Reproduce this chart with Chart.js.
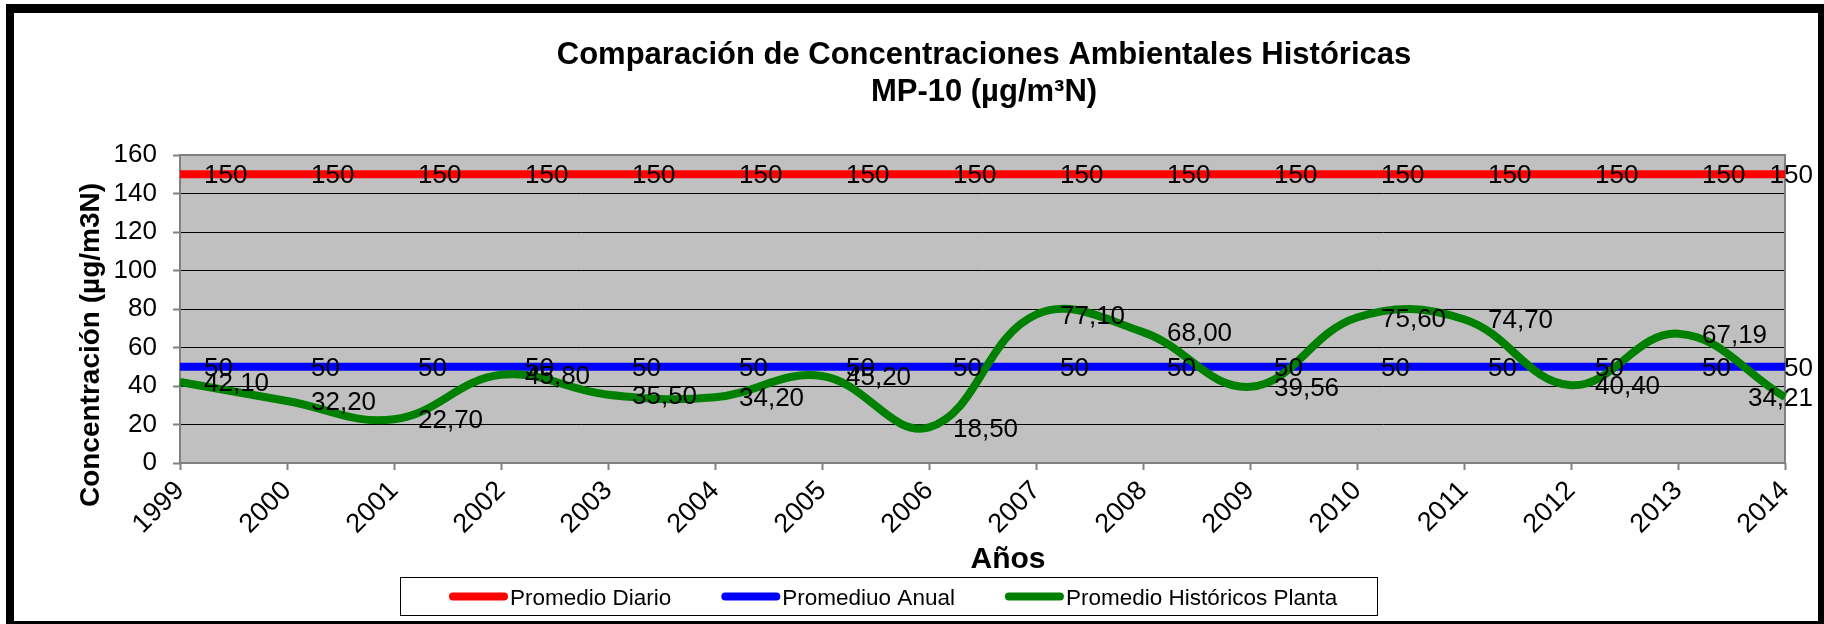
<!DOCTYPE html>
<html>
<head>
<meta charset="utf-8">
<script src="https://cdn.jsdelivr.net/npm/chart.js@4.4.1/dist/chart.umd.min.js"></script>
<style>
html,body{margin:0;padding:0;background:#fff;overflow:hidden;}
canvas{display:block;}
</style>
</head>
<body>
<canvas id="c" width="1824" height="624"></canvas>
<script>
// ---- data ----
const years = ['1999','2000','2001','2002','2003','2004','2005','2006','2007','2008','2009','2010','2011','2012','2013','2014'];
const promedioDiario = [150,150,150,150,150,150,150,150,150,150,150,150,150,150,150,150];
const promedioAnual = [50,50,50,50,50,50,50,50,50,50,50,50,50,50,50,50];
const historicosPlanta = [42.10,32.20,22.70,45.80,35.50,34.20,45.20,18.50,77.10,68.00,39.56,75.60,74.70,40.40,67.19,34.21];
const yTicks = [0,20,40,60,80,100,120,140,160];
const seriesNames = ['Promedio Diario','Promediuo Anual','Promedio Históricos Planta'];
const seriesColors = ['#FF0000','#0000FF','#008000'];
const titleLines = ['Comparación de Concentraciones Ambientales Históricas','MP-10 (µg/m³N)'];
const xTitle = 'Años';
const yTitle = 'Concentración (µg/m3N)';

const FONT = "'Liberation Sans', Arial, sans-serif";
Chart.defaults.font.family = FONT;
Chart.defaults.color = '#000';

const fmtInt = v => String(v);
const fmtDec = v => v.toFixed(2).replace('.', ',');

const framePlugin = {
  id: 'frame',
  beforeDraw(chart) {
    const ctx = chart.ctx, a = chart.chartArea;
    ctx.save();
    ctx.fillStyle = '#fff';
    ctx.fillRect(0, 0, chart.width, chart.height);
    ctx.fillStyle = '#000';
    ctx.fillRect(6, 4, 1818, 9);
    ctx.fillRect(6, 4, 8, 620);
    ctx.fillRect(1818, 4, 6, 620);
    ctx.fillRect(6, 621, 1818, 3);
    ctx.fillStyle = '#C0C0C0';
    ctx.fillRect(a.left, a.top, a.right - a.left, a.bottom - a.top);
    ctx.restore();
  },
  beforeDatasetsDraw(chart) {
    const ctx = chart.ctx, a = chart.chartArea;
    ctx.save();
    ctx.strokeStyle = '#808080';
    ctx.lineWidth = 2;
    ctx.strokeRect(a.left, a.top, a.right - a.left, a.bottom - a.top);
    ctx.restore();
  }
};

const labelsPlugin = {
  id: 'dlabels',
  afterDatasetsDraw(chart) {
    const ctx = chart.ctx;
    ctx.save();
    ctx.font = '26px ' + FONT;
    ctx.fillStyle = '#000';
    ctx.textAlign = 'left';
    ctx.textBaseline = 'middle';
    chart.data.datasets.forEach((ds, i) => {
      const meta = chart.getDatasetMeta(i);
      meta.data.forEach((pt, j) => {
        const t = ds.fmt(ds.data[j]);
        const w = ctx.measureText(t).width;
        let x = pt.x + 24;
        if (x + w > 1813) x = 1813 - w;
        ctx.fillText(t, x, pt.y + 2);
      });
    });
    ctx.restore();
  }
};

const textPlugin = {
  id: 'texts',
  afterDraw(chart) {
    const ctx = chart.ctx;
    ctx.save();
    ctx.fillStyle = '#000';
    // title
    ctx.font = 'bold 31px ' + FONT;
    ctx.textAlign = 'center';
    ctx.textBaseline = 'alphabetic';
    ctx.fillText(titleLines[0], 984, 64);
    ctx.fillText(titleLines[1], 984, 101);
    // x title
    ctx.font = 'bold 30px ' + FONT;
    ctx.fillText(xTitle, 1008, 568);
    // y title
    ctx.save();
    ctx.font = 'bold 28px ' + FONT;
    ctx.translate(99, 345);
    ctx.rotate(-Math.PI / 2);
    ctx.fillText(yTitle, 0, 0);
    ctx.restore();
    // legend
    ctx.strokeStyle = '#000';
    ctx.lineWidth = 1;
    ctx.strokeRect(400.5, 577.5, 977, 38);
    ctx.font = '22.5px ' + FONT;
    ctx.textAlign = 'left';
    ctx.textBaseline = 'alphabetic';
    let x = 449;
    chart.data.datasets.forEach((ds, i) => {
      ctx.strokeStyle = ds.borderColor;
      ctx.lineWidth = 8;
      ctx.lineCap = 'round';
      ctx.beginPath();
      ctx.moveTo(x + 4, 596.5);
      ctx.lineTo(x + 55, 596.5);
      ctx.stroke();
      ctx.fillText(ds.label, x + 61, 605);
      x += 61 + ctx.measureText(ds.label).width + 50;
    });
    ctx.restore();
  }
};

new Chart(document.getElementById('c'), {
  type: 'line',
  data: {
    labels: years,
    datasets: [
      {label: seriesNames[0], data: promedioDiario, borderColor: seriesColors[0], borderWidth: 8, pointRadius: 0, tension: 0, order: 2, fmt: fmtInt},
      {label: seriesNames[1], data: promedioAnual, borderColor: seriesColors[1], borderWidth: 8, pointRadius: 0, tension: 0, order: 1, fmt: fmtInt},
      {label: seriesNames[2], data: historicosPlanta, borderColor: seriesColors[2], borderWidth: 8, pointRadius: 0, tension: 0.4, order: 0, fmt: fmtDec}
    ]
  },
  options: {
    responsive: false,
    animation: false,
    devicePixelRatio: 1,
    layout: {padding: {top: 155, right: 39, left: 0, bottom: 0}},
    plugins: {legend: {display: false}, title: {display: false}, tooltip: {enabled: false}},
    scales: {
      x: {
        offset: false,
        grid: {drawOnChartArea: false, tickLength: 7, tickColor: '#808080', tickWidth: 2},
        border: {display: false},
        ticks: {minRotation: 45, maxRotation: 45, autoSkip: false, font: {size: 27}, padding: 5},
        afterFit(s) { s.height = 161; }
      },
      y: {
        min: 0, max: 160,
        afterBuildTicks(s) { s.ticks = yTicks.map(v => ({value: v})); },
        grid: {
          color: c => (c.tick && c.tick.value > 0 && c.tick.value < 160) ? '#000' : 'rgba(0,0,0,0)',
          lineWidth: 1, tickLength: 7, tickColor: '#808080', tickWidth: 2
        },
        border: {display: false},
        ticks: {font: {size: 26}, padding: 16},
        afterFit(s) { s.width = 180; }
      }
    }
  },
  plugins: [framePlugin, labelsPlugin, textPlugin]
});
</script>
</body>
</html>
